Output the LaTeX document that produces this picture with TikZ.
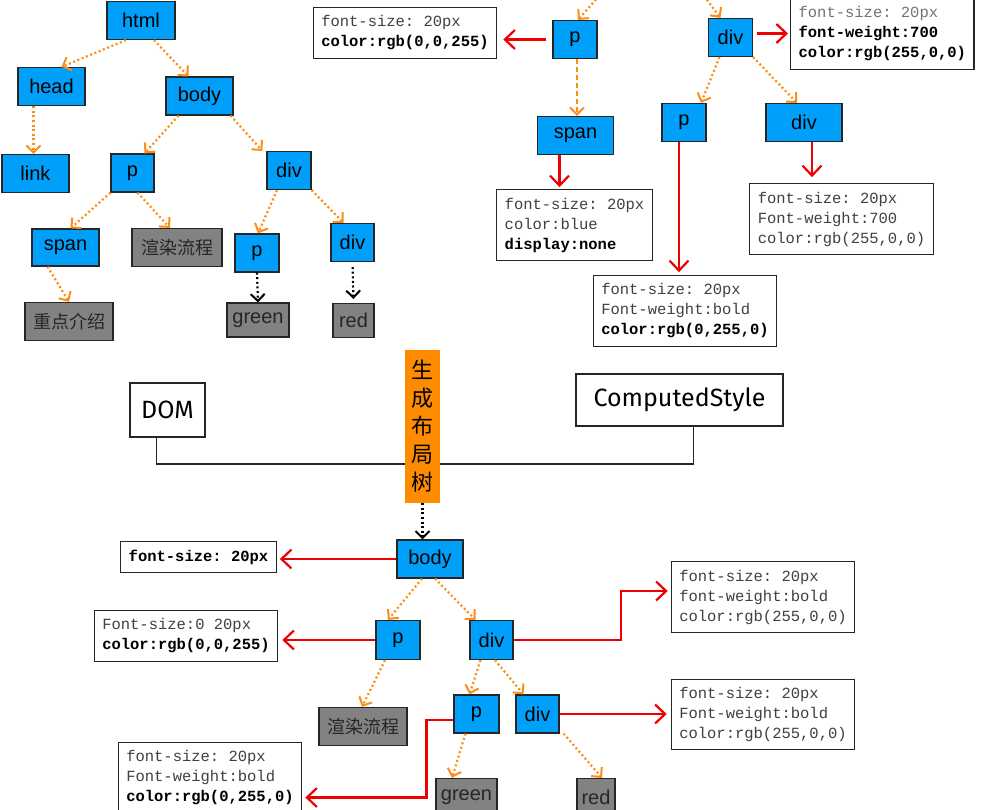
\documentclass[tikz,border=0pt]{standalone}
\usepackage{fontspec}
\setmainfont{Liberation Sans}
\setmonofont{Liberation Mono}
\newfontfamily\cjk{Noto Sans CJK SC}
\newfontfamily\hand{Fira Sans}
\usetikzlibrary{arrows.meta}
\definecolor{tagblue}{RGB}{0,160,250}
\definecolor{leafgray}{RGB}{130,130,130}
\definecolor{treeorange}{RGB}{255,140,20}
\definecolor{buildorange}{RGB}{255,140,0}
\definecolor{rulered}{RGB}{238,0,0}
\newcommand{\bb}[1]{{\bfseries\color{black}#1}}
\newcommand{\lt}[1]{{\color{black!55}#1}}

\tikzset{
  tag/.style={draw=black!85, line width=1.2pt, fill=tagblue, minimum height=38pt, inner sep=0pt, font=\fontsize{20}{24}\selectfont},
  leaf/.style={tag, fill=leafgray, text=black!85},
  css/.style={draw=black!85, line width=1.2pt, fill=white, align=left, inner xsep=8pt, inner ysep=8pt, text=black!75, font=\fontsize{15.5}{20}\selectfont\ttfamily},
  plainbox/.style={draw=black!85, line width=1.2pt, fill=white, inner sep=0pt, font=\hand\fontsize{25}{30}\selectfont},
  kid/.style={treeorange, line width=2.2pt, dash pattern=on 2pt off 2.6pt, -{Straight Barb[length=7pt,width=14pt,line width=2pt]}},
  leafto/.style={kid, black},
  redto/.style={rulered, line width=2.2pt, -{Straight Barb[length=10pt,width=19pt,line width=2.2pt]}}
}

\begin{document}
\begin{tikzpicture}[x=1pt, y=-1pt]
    \useasboundingbox (0,0) rectangle (987,809);
    % DOM tree
    \node[tag, minimum width=68pt] (html) at (141,20.5) {html};
    \node[tag, minimum width=67pt] (head) at (51.5,86.5) {head};
    \node[tag, minimum width=67pt] (body) at (199.5,96) {body};
    \node[tag, minimum width=67pt] (link) at (35.5,173.5) {link};
    \node[tag, minimum width=43pt] (p1) at (132.5,173) {p};
    \node[tag, minimum width=44pt] (div1) at (289,170.5) {div};
    \node[tag, minimum width=67pt, minimum height=37pt] (span1) at (65.5,247.5) {span};
    \node[leaf, minimum width=90pt, font=\cjk\fontsize{18}{22}\selectfont] (render1) at (177,247.5) {渲染流程};
    \node[tag, minimum width=44pt] (p2) at (257,253) {p};
    \node[tag, minimum width=43pt] (div2) at (352.5,242.5) {div};
    \node[leaf, minimum width=88pt, font=\cjk\fontsize{18}{22}\selectfont] (intro) at (69,321.5) {重点介绍};
    \node[leaf, minimum width=62pt, minimum height=34pt] (green1) at (258,320) {green};
    \node[leaf, minimum width=41pt, minimum height=34pt] (red1) at (353.5,320.5) {red};
    \draw[kid] ([xshift=-15]html.south) -- ([xshift=10]head.north);
    \draw[kid] ([xshift=13]html.south) -- ([xshift=-11]body.north);
    \draw[kid] ([xshift=-18]head.south) -- ([xshift=-2]link.north);
    \draw[kid] ([xshift=-21]body.south) -- ([xshift=12]p1.north);
    \draw[kid] ([xshift=31]body.south) -- ([xshift=-4]div1.north west);
    \draw[kid] (p1.south west) -- ([xshift=5]span1.north);
    \draw[kid] ([xshift=5]p1.south) -- ([xshift=-7]render1.north);
    \draw[kid] ([xshift=-12]div1.south) -- ([xshift=1]p2.north);
    \draw[kid] (div1.south east) -- ([xshift=-9]div2.north);
    \draw[kid] ([xshift=-18]span1.south) -- (intro.north);
    \draw[leafto] (p2.south) -- (green1.north);
    \draw[leafto, shorten <=5pt, shorten >=4pt] (div2.south) -- (red1.north);

    % ComputedStyle
    \coordinate (fromP) at (599,-4);
    \coordinate (fromDiv) at (704,-4);
    \node[tag, minimum width=44pt] (pA) at (575,39.5) {p};
    \node[css] (cssA) at (405,33) {font-size: 20px\\\bb{color:rgb(0,0,255)}};
    \node[tag, minimum width=76pt] (spanA) at (575.5,135.5) {span};
    \node[css] (cssB) at (574.5,225) {font-size: 20px\\color:blue\\\bb{display:none}};
    \node[tag, minimum width=44pt] (divA) at (730.5,37.5) {div};
    \node[css, anchor=west] (cssC) at (790,34) {\lt{font-size: 20px}\\\bb{font-weight:700}\\\bb{color:rgb(255,0,0)}};
    \node[tag, minimum width=44pt] (pB) at (684,122.5) {p};
    \node[tag, minimum width=76pt] (divB) at (804,122.5) {div};
    \node[css] (cssD) at (685,311) {font-size: 20px\\Font-weight:bold\\\bb{color:rgb(0,255,0)}};
    \node[css] (cssE) at (841.5,219) {font-size: 20px\\Font-weight:700\\color:rgb(255,0,0)};
    \draw[kid] (fromP) -- ([xshift=3]pA.north);
    \draw[kid] (fromDiv) -- ([xshift=-10]divA.north);
    \draw[redto, shorten <=6pt, shorten >=6pt] (pA.west) -- (pA.west -| cssA.east);
    \draw[kid, dash pattern=on 5pt off 3pt] ([xshift=2]pA.south) -- ([xshift=2]pA.south |- spanA.north);
    \draw[redto, shorten >=2pt] ([xshift=-16]spanA.south) -- ([xshift=-16]spanA.south |- cssB.north);
    \draw[redto, shorten <=4pt, shorten >=2pt] ([yshift=4]divA.east) -- ([yshift=4]divA.east -| cssC.west);
    \draw[kid] ([xshift=-11]divA.south) -- ([xshift=17]pB.north);
    \draw[kid] (divA.south east) -- ([xshift=-7]divB.north);
    \draw[redto, shorten >=3pt] ([xshift=-5]pB.south) -- ([xshift=-5]pB.south |- cssD.north);
    \draw[redto, shorten >=6pt] ([xshift=8]divB.south) -- ([xshift=8]divB.south |- cssE.north);

    % merge
    \node[plainbox, minimum width=75pt, minimum height=54pt] (dom) at (167.5,410) {DOM};
    \node[plainbox, minimum width=207pt, minimum height=52pt] (cstyle) at (679.5,400) {ComputedStyle};
    \coordinate (join) at (422,464);
    \draw[line width=1.6pt, black!85] ([xshift=-11]dom.south) |- (join) -| ([xshift=14]cstyle.south);
    \node[fill=buildorange, minimum width=35pt, minimum height=153pt, inner sep=0pt, align=center, font=\cjk\fontsize{22}{28}\selectfont] (build) at (422.5,426.5) {生\\成\\布\\局\\树};

    % layout tree
    \node[tag, minimum width=66pt] (body2) at (430,559) {body};
    \node[css] (cssF) at (198.5,557) {\bb{font-size: 20px}};
    \node[tag, minimum width=44pt, minimum height=39pt] (p3) at (398,640) {p};
    \node[css] (cssG) at (186,636) {Font-size:0 20px\\\bb{color:rgb(0,0,255)}};
    \node[tag, minimum width=43pt, minimum height=39pt] (div3) at (491.5,640) {div};
    \node[css] (cssH) at (763,597) {font-size: 20px\\font-weight:bold\\color:rgb(255,0,0)};
    \node[leaf, minimum width=88pt, font=\cjk\fontsize{18}{22}\selectfont] (render2) at (363,726.5) {渲染流程};
    \node[tag, minimum width=45pt] (p4) at (476.5,714) {p};
    \node[tag, minimum width=43pt] (div4) at (537.5,714) {div};
    \node[css] (cssI) at (763,714.5) {font-size: 20px\\Font-weight:bold\\color:rgb(255,0,0)};
    \node[css] (cssJ) at (210,777.5) {font-size: 20px\\Font-weight:bold\\\bb{color:rgb(0,255,0)}};
    \node[leaf, minimum width=61pt, minimum height=37pt] (green2) at (466.5,797) {green};
    \node[leaf, minimum width=38pt, minimum height=37pt] (red2) at (596,797) {red};
    \draw[leafto] (build.south) -- (build.south |- body2.north);
    \draw[redto, shorten >=3pt] (body2.west) -- (body2.west -| cssF.east);
    \draw[redto, shorten >=4pt] (p3.west) -- (p3.west -| cssG.east);
    \draw[redto, shorten >=3pt] (div3.east) -- ++(107,0) |- ([yshift=6]cssH.west);
    \draw[redto, shorten >=3pt] ([yshift=-6]p4.west) -- ++(-27,0) |- ([yshift=-20]cssJ.east);
    \draw[redto, shorten >=4pt] (div4.east) -- (div4.east -| cssI.west);
    \draw[kid] ([xshift=-8]body2.south) -- ([xshift=-10]p3.north);
    \draw[kid] ([xshift=5]body2.south) -- ([xshift=-16]div3.north);
    \draw[kid] ([xshift=-13]p3.south) -- ([xshift=-1]render2.north);
    \draw[kid] ([xshift=-11]div3.south) -- ([xshift=-7]p4.north);
    \draw[kid] ([xshift=3.5]div3.south) -- ([xshift=-14]div4.north);
    \draw[kid] ([xshift=-11]p4.south) -- ([xshift=-14.5]green2.north);
    \draw[kid] ([xshift=4]div4.south east) -- ([xshift=6]red2.north);
\end{tikzpicture}
\end{document}
